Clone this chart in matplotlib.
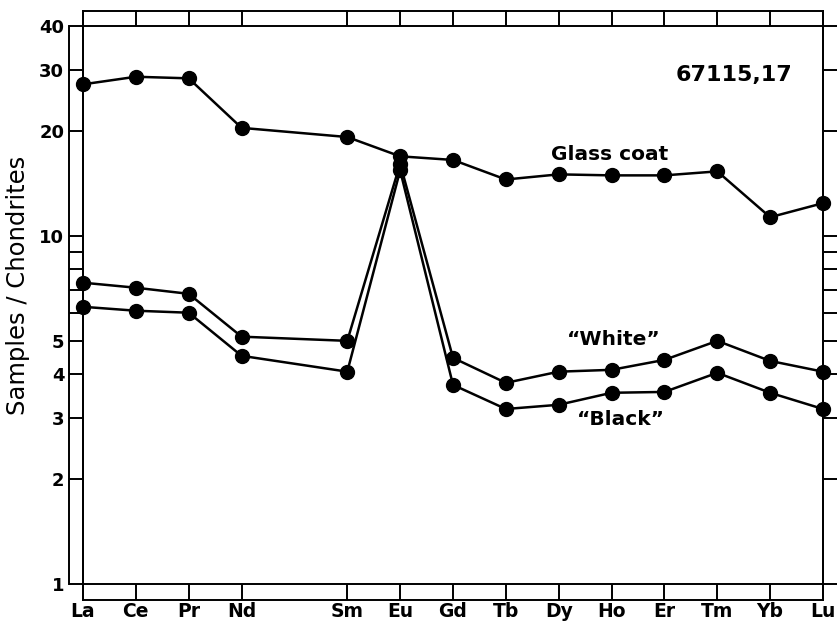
import matplotlib
matplotlib.use("Agg")
import matplotlib.pyplot as plt
from matplotlib.lines import Line2D

elements = ["La", "Ce", "Pr", "Nd", "Sm", "Eu", "Gd", "Tb", "Dy", "Ho", "Er", "Tm", "Yb", "Lu"]
atomic_pos = [0, 1, 2, 3, 5, 6, 7, 8, 9, 10, 11, 12, 13, 14]  # Pm omitted

glass_coat = [27.2, 28.6, 28.3, 20.4, 19.2, 16.9, 16.5, 14.5, 15.0, 14.9, 14.9, 15.3, 11.3, 12.4]
white = [7.33, 7.09, 6.81, 5.13, 4.99, 16.1, 4.46, 3.78, 4.07, 4.12, 4.40, 4.99, 4.37, 4.07]
black = [6.25, 6.09, 6.01, 4.52, 4.07, 15.4, 3.73, 3.18, 3.27, 3.54, 3.56, 4.04, 3.54, 3.18]

ytick_vals = [1, 2, 3, 4, 5, 6, 7, 8, 9, 10, 20, 30, 40]
ytick_labels = ["1", "2", "3", "4", "5", "", "", "", "", "10", "20", "30", "40"]

W, H = 840, 625
fig = plt.figure(figsize=(W / 100, H / 100), dpi=100)
L, R, T, B = 83, 823, 26, 584
ax = fig.add_axes([L / W, 1 - B / H, (R - L) / W, (B - T) / H])

ax.set_yscale("log")
ax.set_xlim(0, 14)
ax.set_ylim(1, 40)

lw = 1.4
for s in ax.spines.values():
    s.set_linewidth(lw)
    s.set_color("black")

ax.set_xticks(atomic_pos)
ax.set_xticklabels(elements, fontsize=13.5, fontweight="bold")
ax.set_yticks(ytick_vals)
ax.set_yticklabels(ytick_labels, fontsize=13, fontweight="bold")
ax.minorticks_off()
ax.tick_params(axis="x", which="major", direction="out", length=11.2, width=lw,
               top=True, bottom=True, pad=1.5)
ax.tick_params(axis="y", which="major", direction="out", length=10, width=lw,
               left=True, right=True, pad=3.5)

axw, axh = R - L, B - T
top_out = 1 + 15 / axh
bot_out = -16 / axh
left_out = -14 / axw
kw = dict(transform=ax.transAxes, color="black", lw=lw, clip_on=False)
ax.add_line(Line2D([0, 1], [top_out, top_out], **kw))
ax.add_line(Line2D([0, 1], [bot_out, bot_out], **kw))
ax.add_line(Line2D([0, 0], [bot_out, top_out], **kw))
ax.add_line(Line2D([1, 1], [bot_out, top_out], **kw))
ax.add_line(Line2D([left_out, left_out], [0, 1], **kw))

for series in (glass_coat, white, black):
    ax.plot(atomic_pos, series, color="black", lw=1.8, marker="o",
            markersize=10, clip_on=False, zorder=3)

ax.text(12.32, 29.0, "67115,17", fontsize=16, fontweight="bold", ha="center", va="center")
ax.text(9.97, 17.1, "Glass coat", fontsize=14.5, fontweight="bold", ha="center", va="center")
ax.text(10.05, 5.02, "\u201cWhite\u201d", fontsize=14.5, fontweight="bold", ha="center", va="center")
ax.text(10.18, 2.96, "\u201cBlack\u201d", fontsize=14.5, fontweight="bold", ha="center", va="center")

fig.text(18 / W, 1 - 285 / H, "Samples / Chondrites", rotation=90, fontsize=17.5,
         ha="center", va="center")

fig.savefig("out.png", dpi=100)
